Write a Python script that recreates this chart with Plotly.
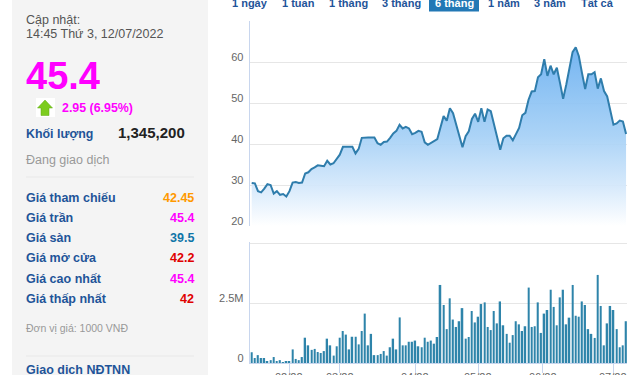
import plotly.graph_objects as go

W, H = 640, 375

price = [30.5,30.4,28.5,28.2,29.1,30.2,30.0,27.9,28.5,27.6,27.8,27.2,28.5,30.6,30.7,30.5,30.6,32.8,33.1,33.9,
         34.3,34.8,34.7,34.6,35.9,35.0,35.3,36.3,37.4,39.3,39.3,39.3,39.3,37.7,38.8,41.5,41.6,41.6,41.6,41.6,
         40.2,39.8,40.5,40.6,41.5,42.6,43.2,44.7,43.8,44.2,43.8,42.4,42.7,43.2,43.0,40.4,
         39.8,40.2,40.7,41.2,44.0,46.8,45.7,48.7,47.5,44.5,41.5,39.2,41.9,43.1,46.1,47.4,45.4,48.7,45.4,48.4,
         48.0,44.7,41.7,38.6,41.4,42.0,42.0,40.9,42.4,43.9,47.0,47.6,50.8,52.8,52.9,56.3,57.0,60.7,56.6,59.1,
         57.0,58.6,54.9,51.0,54.5,58.1,62.4,63.6,61.4,57.3,53.4,57.0,57.0,57.5,53.5,56.0,52.9,51.6,48.0,44.7,
         45.0,45.7,45.5,42.45]
volume_m = [.45,.21,.33,.21,.21,.08,.12,.25,.08,.12,.04,.08,.08,.57,.17,.12,.25,1.06,.74,.55,
            .59,.46,.42,.50,1.02,.74,.31,.70,1.06,1.34,1.19,.57,1.10,1.10,.78,1.34,2.07,.74,1.22,.33,
            .33,.38,.50,.31,.66,1.02,.57,1.91,.74,.74,.89,.89,.94,.70,.66,1.06,
            .89,.94,.81,1.09,3.27,2.43,1.42,2.71,1.82,1.51,1.75,2.30,1.02,1.09,2.18,1.70,1.94,2.47,2.54,1.51,
            1.38,2.18,1.66,2.58,1.58,1.22,.85,1.17,1.75,1.62,1.34,1.54,3.16,1.51,1.54,2.54,1.26,2.07,2.22,3.07,
            2.35,1.58,2.75,3.07,1.62,1.90,3.27,1.98,1.94,2.58,2.43,1.42,1.22,1.05,3.69,2.39,.74,1.66,2.39,2.22,
            1.42,.66,.74,1.75]
month_index = [12, 28, 52, 72, 92.5, 115]
month_labels = ["02/22", "03/22", "04/22", "05/22", "06/22", "07/22"]
range_labels = ["1 ngày", "1 tuần", "1 tháng", "3 tháng", "6 tháng", "1 năm", "3 năm", "Tất cả"]
range_centers = [250, 298, 348, 401, 454.7, 504, 550, 597]
row_labels = ["Giá tham chiếu", "Giá trần", "Giá sàn", "Giá mở cửa", "Giá cao nhất", "Giá thấp nhất"]
row_values = ["42.45", "45.4", "39.5", "42.2", "45.4", "42"]
row_colors = ["#ff9900", "#ff00ff", "#0f75a8", "#e00000", "#ff00ff", "#e00000"]
row_y = [197.7, 218, 238, 258, 278.5, 299]

n = min(len(price), len(volume_m))
x = list(range(n))
FONT = "Liberation Sans"
BLUE = "#1f5499"
GRID = "#e6e6e6"
AXIS = "#c8d6ee"
X_RANGE = [-0.64, n - 1 + 0.3]


def px(v):
    return v / W


def py(v):
    return 1 - v / H


fig = go.Figure()
fig.add_trace(go.Scatter(
    x=x, y=price, mode="lines", xaxis="x", yaxis="y",
    line=dict(color="#2f7dac", width=2), fill="tozeroy",
    fillgradient=dict(type="vertical", start=64, stop=20,
                      colorscale=[[0, "rgba(105,175,240,0.93)"],
                                  [0.5, "rgba(165,208,246,0.93)"],
                                  [0.78, "rgba(212,232,251,0.93)"],
                                  [1, "rgba(255,255,255,0.93)"]]),
    showlegend=False, hoverinfo="skip"))
fig.add_trace(go.Bar(
    x=x, y=[v * 1e6 for v in volume_m], xaxis="x2", yaxis="y2",
    marker=dict(color="#2e84aa", line_width=0), width=0.5, showlegend=False, hoverinfo="skip"))

shapes = [
    dict(type="rect", xref="paper", yref="paper", x0=px(12), x1=px(208), y0=py(375), y1=py(0),
         fillcolor="#f4f4f4", line_width=0, layer="below"),
    dict(type="line", xref="paper", yref="paper", x0=px(26), x1=px(194), y0=py(177), y1=py(177),
         line=dict(color="#e8e8e8", width=1)),
    dict(type="line", xref="paper", yref="paper", x0=px(26), x1=px(194), y0=py(356), y1=py(356),
         line=dict(color="#e8e8e8", width=1)),
    dict(type="rect", xref="paper", yref="paper", x0=px(429), x1=px(479), y0=py(11.5), y1=py(-2),
         fillcolor="#2278b5", line_width=0),
    dict(type="rect", xref="paper", yref="paper", x0=px(36), x1=px(55), y0=py(117), y1=py(98),
         fillcolor="#ffffff", line_width=0),
    dict(type="path", xref="paper", yref="paper",
         path="M {} {} L {} {} L {} {} L {} {} L {} {} L {} {} L {} {} Z".format(
             px(45), py(100), px(52.5), py(108), px(49), py(108), px(49), py(115.5),
             px(41), py(115.5), px(41), py(108), px(37.5), py(108)),
         fillcolor="#7ccc1e", line=dict(color="#5faa10", width=0.5)),
]

ann = []


def text(s, xp, yp, size, color, bold=False, anchor="left"):
    shift = {"left": -2, "right": 2, "center": 0}[anchor]
    ann.append(dict(text=f"<b>{s}</b>" if bold else s, xref="paper", yref="paper", x=px(xp + shift), y=py(yp),
                    xanchor=anchor, yanchor="middle", showarrow=False, align=anchor,
                    font=dict(family=FONT, size=size, color=color)))


text("Cập nhật:", 26, 20, 12.5, "#555555")
text("14:45 Thứ 3, 12/07/2022", 26, 33.5, 12.5, "#555555")
text("45.4", 26, 76, 38, "#ff00ff", True)
text("2.95 (6.95%)", 62, 108, 12.4, "#ff00ff", True)
text("Khối lượng", 26, 134, 12.4, BLUE, True)
text("1,345,200", 185, 132, 15, "#222222", True, "right")
text("Đang giao dịch", 26, 160, 12.5, "#999999")
for lab, val, col, yy in zip(row_labels, row_values, row_colors, row_y):
    text(lab, 26, yy, 12.5, BLUE, True)
    text(val, 194, yy, 12.5, col, True, "right")
text("Đơn vị giá: 1000 VNĐ", 26, 327.7, 10.5, "#999999")
text("Giao dịch NĐTNN", 26, 370, 12.5, BLUE, True)
for lab, cx in zip(range_labels, range_centers):
    text(lab, cx, 3.5, 11, "#ffffff" if lab == "6 tháng" else BLUE, True, "center")
for lab, idx in zip(month_labels, month_index):
    ann.append(dict(text=lab, xref="x2", yref="paper", x=idx, y=py(377), xanchor="center", yanchor="middle",
                    showarrow=False, font=dict(family=FONT, size=11, color="#666666")))

fig.update_layout(
    width=W, height=H, margin=dict(l=0, r=0, t=0, b=0, autoexpand=False),
    paper_bgcolor="#ffffff", plot_bgcolor="#ffffff",
    shapes=shapes, annotations=ann, bargap=0.5,
    xaxis=dict(domain=[px(249.7), px(627)], range=X_RANGE, anchor="y", showticklabels=False,
               showgrid=False, zeroline=False, ticks=""),
    yaxis=dict(domain=[py(226), py(21)], range=[20, 70], anchor="x",
               tickvals=[20, 30, 40, 50, 60, 70], ticktext=["20", "30", "40", "50", "60", ""],
               showgrid=True, gridcolor=GRID, gridwidth=1, zeroline=False,
               showline=True, linecolor=AXIS, linewidth=1, ticks="",
               tickfont=dict(family=FONT, size=11, color="#666666"),
               ticklabelshift=-5, ticklabelstandoff=3),
    xaxis2=dict(domain=[px(249.7), px(627)], range=X_RANGE, anchor="y2",
                tickvals=month_index, ticktext=month_labels, ticks="outside", ticklen=9,
                tickcolor=AXIS, tickwidth=1, showgrid=False, zeroline=False,
                showline=True, linecolor=AXIS, linewidth=1, showticklabels=False),
    yaxis2=dict(domain=[py(363), py(242)], range=[0, 5.07e6], anchor="x2",
                tickvals=[0, 2.5e6, 5e6], ticktext=["0", "2.5M", ""],
                showgrid=True, gridcolor=GRID, gridwidth=1, zeroline=False,
                showline=True, linecolor=AXIS, linewidth=1, ticks="",
                tickfont=dict(family=FONT, size=11, color="#666666"),
                ticklabelshift=-5, ticklabelstandoff=3),
)

fig.write_html("out.html", config={"displayModeBar": False},
               post_script="document.body.style.margin='0';document.body.style.overflow='hidden';")
